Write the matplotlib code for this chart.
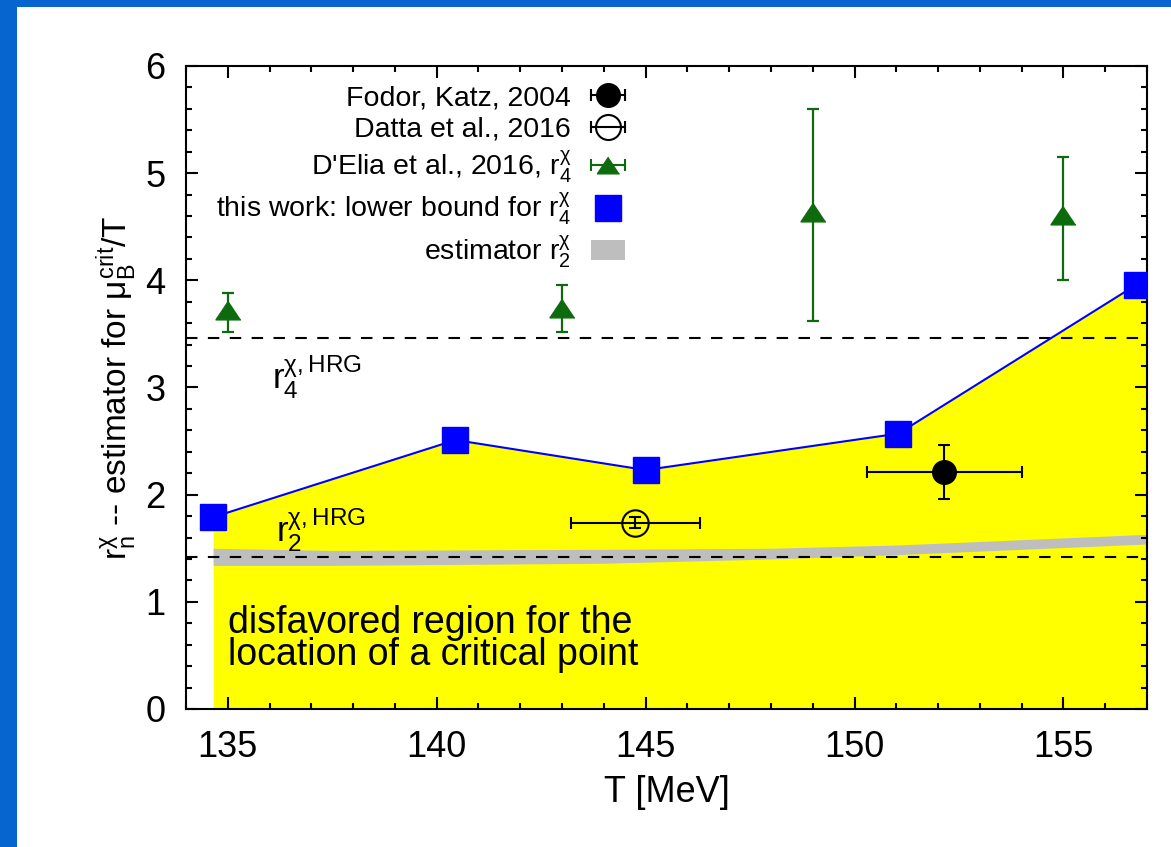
import matplotlib
matplotlib.use("Agg")
import matplotlib.pyplot as plt
from matplotlib.lines import Line2D
from matplotlib.patches import Patch, Rectangle
from matplotlib.legend_handler import HandlerLine2D

plt.rcParams["font.family"] = ["Liberation Sans", "DejaVu Sans"]
plt.rcParams["mathtext.fontset"] = "custom"
plt.rcParams["mathtext.rm"] = "Liberation Sans"
plt.rcParams["mathtext.it"] = "Liberation Sans"
plt.rcParams["mathtext.bf"] = "Liberation Sans:bold"

# this work: lower bound for r4
T_this = [134.65, 140.45, 145.0, 151.05, 156.75]
r4_this = [1.79, 2.51, 2.23, 2.57, 3.96]

# estimator r2 band
T_band = [134.65, 137.5, 144.0, 148.0, 151.0, 157.0]
r2_lo = [1.34, 1.34, 1.36, 1.40, 1.44, 1.54]
r2_hi = [1.50, 1.48, 1.49, 1.50, 1.53, 1.63]

# D'Elia et al., 2016
T_delia = [135.0, 143.0, 149.0, 155.0]
r4_delia = [3.72, 3.74, 4.64, 4.61]
r4_delia_hi = [3.88, 3.96, 5.60, 5.15]
r4_delia_lo = [3.52, 3.52, 3.62, 4.00]

# Fodor, Katz, 2004
T_fk = [152.15]
T_fk_err = [1.85]
r_fk = [2.21]
r_fk_err = [0.25]

# Datta et al., 2016
T_datta = [144.75]
T_datta_err = [1.54]
r_datta = [1.74]
r_datta_err = [0.05]

# HRG values
r4_hrg = 3.464
r2_hrg = 1.414

GREEN = "#0d6b0d"

fig = plt.figure(figsize=(11.71, 8.47), dpi=100)
fig.patch.set_facecolor("#0765d0")
fig.patches.append(Rectangle((17 / 1171, 0), 1, 1 - 7 / 847, transform=fig.transFigure,
                             facecolor="white", edgecolor="none", zorder=-10))

ax = fig.add_axes([186 / 1171, 1 - 709 / 847, 961 / 1171, 643 / 847])
ax.patch.set_alpha(0)
ax.set_xlim(134, 157)
ax.set_ylim(0, 6)

# disfavored region under the lower bound
T_fill = T_this + [157.0]
r_fill = r4_this + [r4_this[-1]]
ax.fill_between(T_fill, 0, r_fill, color="#ffff00", lw=0, zorder=1)
ax.fill_between(T_band, r2_lo, r2_hi, color="#bebebe", lw=0, zorder=1.1)

dash = (0, (5.5, 5.0))
ax.axhline(r4_hrg, color="k", lw=1.5, ls=dash, zorder=2)
ax.axhline(r2_hrg, color="k", lw=1.5, ls=dash, zorder=2)

ax.plot(T_this, r4_this, color="#0000ff", lw=1.5, zorder=3)
ax.plot(T_this, r4_this, ls="none", marker="s", ms=19, color="#0000ff", zorder=4)

yerr_delia = [[v - lo for v, lo in zip(r4_delia, r4_delia_lo)],
              [hi - v for v, hi in zip(r4_delia, r4_delia_hi)]]
tri = [(0, 0.75), (-1, -0.75), (1, -0.75)]
ax.errorbar(T_delia, r4_delia, yerr=yerr_delia, fmt="none", ecolor=GREEN,
            elinewidth=1.6, capsize=4, capthick=1.6, zorder=4)
ax.plot(T_delia, r4_delia, ls="none", marker=tri, ms=18, color=GREEN, zorder=5)

ax.errorbar(T_fk, r_fk, xerr=T_fk_err, yerr=r_fk_err, fmt="o", ms=17, color="k",
            elinewidth=1.5, capsize=4, capthick=1.5, zorder=5)
ax.errorbar(T_datta, r_datta, xerr=T_datta_err, yerr=r_datta_err, fmt="o", ms=19,
            mfc="none", mec="k", mew=1.5, color="k", elinewidth=1.5, capsize=4,
            capthick=1.5, zorder=5)

# text annotations
ax.text(136.05, 2.98, r"$\mathrm{r}_4^{\chi\mathrm{,HRG}}$", fontsize=25)
ax.text(136.15, 1.56, r"$\mathrm{r}_2^{\chi\mathrm{,HRG}}$", fontsize=25)
ax.text(135.0, 0.41, "disfavored region for the\nlocation of a critical point",
        fontsize=27, linespacing=0.85, va="baseline")

# axes styling
for s in ax.spines.values():
    s.set_linewidth(1.5)
ax.set_xticks([135, 140, 145, 150, 155])
ax.set_xticks(range(134, 158), minor=True)
ax.set_yticks(range(0, 7))
ax.set_yticks([i * 0.2 for i in range(31)], minor=True)
ax.tick_params(which="both", direction="in", top=True, right=True, width=1.5)
ax.tick_params(which="major", length=8.5, labelsize=26, pad=15)
ax.tick_params(which="minor", length=4.3)
ax.set_xlabel("T [MeV]", fontsize=26, labelpad=7)
ax.set_ylabel(r"$\mathrm{r}_\mathrm{n}^{\chi}$ -- estimator for $\mu_\mathrm{B}^\mathrm{crit}$/T",
              fontsize=24, labelpad=4)

# legend
bar_k = Line2D([], [], color="k", lw=1.5, marker="|", ms=9, mew=1.5)
bar_g = Line2D([], [], color=GREEN, lw=1.5, marker="|", ms=9, mew=1.5)
h_fk = (bar_k, Line2D([], [], ls="none", marker="o", ms=17, color="k"))
h_datta = (bar_k, Line2D([], [], ls="none", marker="o", ms=18, mfc="none", mec="k", mew=1.5))
h_delia = (bar_g, Line2D([], [], ls="none", marker=tri, ms=16, color=GREEN))
h_this = Line2D([], [], ls="none", marker="s", ms=19, color="#0000ff")
h_band = Patch(facecolor="#bebebe", edgecolor="none")
leg = ax.legend([h_fk, h_datta, h_delia, h_this, h_band],
                ["Fodor, Katz, 2004", "Datta et al., 2016",
                 r"D'Elia et al., 2016, $\mathrm{r}_4^{\chi}$",
                 r"this work: lower bound for $\mathrm{r}_4^{\chi}$",
                 r"estimator $\mathrm{r}_2^{\chi}$"],
                handler_map={bar_k: HandlerLine2D(numpoints=2, marker_pad=0),
                             bar_g: HandlerLine2D(numpoints=2, marker_pad=0)},
                loc="upper right", bbox_to_anchor=(0.457, 0.970), markerfirst=False,
                frameon=False, fontsize=20.5, handlelength=1.2, handletextpad=0.7,
                labelspacing=0.2, borderaxespad=0, borderpad=0, numpoints=1)

fig.savefig("out.png", dpi=100, facecolor=fig.get_facecolor())
